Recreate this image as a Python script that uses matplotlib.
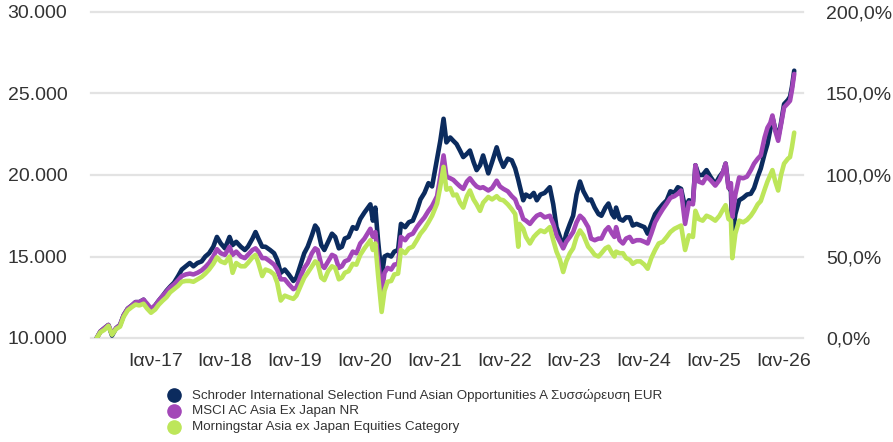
import matplotlib
matplotlib.use("Agg")
import matplotlib.pyplot as plt
from matplotlib.lines import Line2D
import numpy as np
import pandas as pd

# growth of 10.000 EUR, values in thousand EUR
dates = [
    "2016-03-01", "2016-03-20", "2016-04-10", "2016-05-01", "2016-05-20", "2016-06-10",
    "2016-07-01", "2016-07-20", "2016-08-10", "2016-09-01", "2016-09-20", "2016-10-10",
    "2016-11-01", "2016-11-20", "2016-12-10",
    "2017-01-01", "2017-01-20", "2017-02-10", "2017-03-01", "2017-03-20", "2017-04-10",
    "2017-05-01", "2017-05-20", "2017-06-10", "2017-07-01", "2017-07-20", "2017-08-10",
    "2017-09-01", "2017-09-20", "2017-10-10", "2017-11-01", "2017-11-20", "2017-12-10",
    "2018-01-01", "2018-01-25", "2018-02-10", "2018-03-01", "2018-03-25", "2018-04-15",
    "2018-05-01", "2018-05-25", "2018-06-10", "2018-06-25", "2018-07-15", "2018-08-01",
    "2018-08-25", "2018-09-15", "2018-10-01", "2018-10-20", "2018-11-10", "2018-12-01",
    "2018-12-25",
    "2019-01-10", "2019-02-01", "2019-02-20", "2019-03-10", "2019-04-01", "2019-04-18",
    "2019-05-01", "2019-05-20", "2019-06-05", "2019-06-25", "2019-07-15", "2019-08-01",
    "2019-08-20", "2019-09-05", "2019-09-20", "2019-10-10", "2019-11-01", "2019-11-20",
    "2019-12-10",
    "2020-01-01", "2020-02-01", "2020-02-14", "2020-02-27", "2020-03-12", "2020-03-31",
    "2020-04-15", "2020-05-01", "2020-05-20", "2020-06-05", "2020-06-25", "2020-07-10",
    "2020-08-01", "2020-08-20", "2020-09-10", "2020-10-01", "2020-10-20", "2020-11-10",
    "2020-12-01", "2020-12-20",
    "2021-01-15", "2021-02-01", "2021-02-18", "2021-03-05", "2021-03-25", "2021-04-10",
    "2021-04-27", "2021-05-15", "2021-06-01", "2021-06-20", "2021-07-06", "2021-07-25",
    "2021-08-10", "2021-08-28", "2021-09-13", "2021-10-10", "2021-10-30", "2021-11-23",
    "2021-12-10", "2021-12-28",
    "2022-01-20", "2022-02-10", "2022-02-28", "2022-03-16", "2022-03-22", "2022-04-11",
    "2022-04-25", "2022-05-16", "2022-06-05", "2022-06-21", "2022-07-10", "2022-08-01",
    "2022-08-28", "2022-09-15", "2022-10-02", "2022-10-20", "2022-11-06", "2022-11-22",
    "2022-12-11", "2022-12-28",
    "2023-01-15", "2023-02-02", "2023-02-20", "2023-03-17", "2023-04-01", "2023-04-20",
    "2023-05-10", "2023-05-25", "2023-06-15", "2023-07-01", "2023-07-20", "2023-08-01",
    "2023-08-10", "2023-08-28", "2023-09-15", "2023-10-01", "2023-10-20", "2023-11-05",
    "2023-11-25", "2023-12-15",
    "2024-01-05", "2024-01-22", "2024-02-10", "2024-03-01", "2024-03-20", "2024-04-10",
    "2024-05-01", "2024-05-20", "2024-06-10", "2024-06-28", "2024-07-15", "2024-08-05",
    "2024-08-25", "2024-09-15", "2024-09-28", "2024-10-15", "2024-11-05", "2024-11-25",
    "2024-12-15",
    "2025-01-10", "2025-02-01", "2025-02-20", "2025-03-05", "2025-03-20", "2025-04-02",
    "2025-04-09", "2025-04-25", "2025-05-15", "2025-06-05", "2025-06-25", "2025-07-15",
    "2025-08-01", "2025-08-20", "2025-09-05", "2025-09-25", "2025-10-10", "2025-10-25",
    "2025-11-05", "2025-11-20", "2025-12-05", "2025-12-20",
    "2026-01-05", "2026-01-25", "2026-02-05", "2026-02-15", "2026-02-27",
]

fund = [
    10.0, 10.4, 10.6, 10.8, 10.15, 10.6,
    10.8, 11.4, 11.8, 12.0, 12.2, 12.2,
    12.35, 12.0, 11.7,
    12.0, 12.3, 12.6, 12.9, 13.15, 13.4,
    13.8, 14.2, 14.4, 14.6, 14.4, 14.6,
    14.7, 15.0, 15.2, 15.6, 16.2, 15.8,
    15.5, 16.2, 15.7, 15.9, 15.6, 15.4,
    15.6, 16.1, 16.5, 16.1, 15.6, 15.6,
    15.4, 15.2, 14.8, 14.0, 14.2, 13.9,
    13.5,
    13.7, 14.5, 15.2, 15.6, 16.3, 16.9,
    16.7, 15.7, 15.4, 15.9, 16.4, 16.2,
    15.5, 15.6, 16.1, 16.2, 16.8, 16.7,
    17.3,
    17.7, 18.2, 17.2, 18.0, 16.0, 13.75,
    15.0, 15.1, 15.0, 15.3, 15.4, 17.0,
    16.8, 17.1, 17.2, 17.8, 18.5, 18.9,
    19.5, 19.3,
    21.0, 22.1, 23.45, 22.0, 22.3, 22.1,
    21.9, 21.5, 21.1, 21.3, 21.5, 20.8,
    20.3, 20.6, 21.2, 20.1, 20.8, 21.7,
    21.0, 20.5,
    21.0, 20.9, 20.4, 19.7, 19.4, 18.45,
    18.8, 18.65, 18.9, 18.45, 18.8, 18.9,
    19.25, 18.2, 16.8, 16.2, 15.6, 16.4,
    17.0, 17.5,
    18.8, 19.6, 19.0, 18.45, 18.5, 18.0,
    17.6, 17.5, 18.0, 18.25, 17.6, 17.4,
    18.0, 17.3, 17.2, 17.4, 17.4, 16.9,
    17.0, 16.9,
    16.8, 16.4, 17.0, 17.6, 17.9, 18.2,
    18.45, 19.0, 18.9, 19.25, 19.15, 18.0,
    18.45, 18.35, 20.6, 20.0, 20.0, 20.3,
    19.9,
    19.45, 19.9, 20.2, 20.7, 19.3, 19.0,
    16.2, 17.6, 18.45, 18.6, 18.8, 18.85,
    19.2, 19.9, 20.4, 21.3, 21.9, 22.8,
    23.55, 22.8, 22.3, 23.2,
    24.35, 24.6, 24.8, 25.4, 26.4,
]

benchmark = [
    10.0, 10.4, 10.6, 10.8, 10.25, 10.6,
    10.8, 11.4, 11.8, 12.0, 12.2, 12.2,
    12.35, 12.1, 11.8,
    12.0, 12.3, 12.6, 12.85, 13.1, 13.3,
    13.55, 13.8, 13.9, 13.95, 13.9, 14.0,
    14.15, 14.35, 14.6, 15.0, 15.45, 15.2,
    15.1, 15.6, 15.1, 15.3, 15.0, 14.9,
    15.1, 15.4, 15.5, 15.3, 14.9, 14.9,
    14.7, 14.5, 14.2, 13.6, 13.6, 13.3,
    13.0,
    13.1, 13.8, 14.3, 14.6, 15.2, 15.5,
    15.4, 14.5, 14.3, 14.7, 15.1, 15.0,
    14.3, 14.4, 14.7, 14.8, 15.3, 15.2,
    15.8,
    16.1, 16.7, 16.2, 16.5, 14.8, 12.75,
    14.0, 14.3, 14.2, 14.5, 14.55, 16.2,
    16.0, 16.3, 16.4, 16.8, 17.1, 17.4,
    17.8, 18.1,
    18.7, 19.9, 21.2, 19.9, 19.8, 19.7,
    19.5, 19.3, 19.15, 19.6, 19.8, 19.5,
    19.3, 19.2, 19.25, 19.05, 19.2, 19.65,
    19.3, 19.15,
    19.0, 18.7, 18.5, 18.0, 18.0, 17.3,
    17.2, 17.0, 17.3, 17.5, 17.6, 17.4,
    17.5, 17.0, 16.3, 15.9, 15.5, 15.9,
    16.2, 16.5,
    17.1, 17.5, 17.3, 16.8, 16.1, 16.0,
    16.1, 16.1, 16.6, 16.8, 16.4, 16.2,
    16.8, 16.0, 15.8, 16.1, 16.2, 15.9,
    16.0, 16.0,
    15.9, 15.8, 16.4, 17.1, 17.5, 17.9,
    18.25, 18.6, 18.7, 18.85, 19.05, 17.0,
    18.3, 18.2, 20.6, 19.6, 19.5, 19.9,
    19.7,
    19.35, 19.7, 20.2, 20.7, 19.2, 19.5,
    17.4, 18.8, 19.85, 19.8, 19.9, 20.3,
    20.7, 21.0, 21.2, 22.3, 22.9, 23.2,
    23.65, 22.7, 22.1, 23.1,
    24.15, 24.4, 24.55, 25.2, 26.2,
]

category = [
    10.0, 10.35, 10.5, 10.75, 10.2, 10.55,
    10.7, 11.3, 11.7, 11.9, 12.05, 12.0,
    12.1, 11.8, 11.55,
    11.75, 12.05, 12.3, 12.5, 12.8, 13.0,
    13.2, 13.45, 13.5, 13.5, 13.45, 13.6,
    13.75, 13.95, 14.2, 14.55, 14.95, 14.7,
    14.6, 15.0, 14.0, 14.6, 14.4, 14.4,
    14.6, 14.95, 15.1, 14.6, 13.8, 14.2,
    14.1, 13.9, 13.4, 12.3, 12.6, 12.5,
    12.4,
    12.6, 13.2, 13.7, 14.0, 14.4, 14.7,
    14.6, 13.7, 13.55, 14.1, 14.4, 14.3,
    13.6, 13.7, 14.0, 14.1, 14.55, 14.5,
    15.1,
    15.5, 16.0, 15.4, 15.8, 13.9, 11.6,
    12.9, 13.45, 13.5, 13.9, 13.95, 15.4,
    15.2, 15.5, 15.6, 16.0, 16.4, 16.7,
    17.1, 17.5,
    18.25, 19.3, 20.5, 19.1, 19.2, 18.75,
    18.8, 18.3, 18.0, 18.7, 19.05, 18.5,
    18.2, 17.8, 18.3, 18.65, 18.5, 18.7,
    18.5, 18.45,
    18.2, 17.9, 17.6, 15.6, 17.0, 16.7,
    16.2, 15.8, 16.2, 16.4, 16.6, 16.5,
    16.8, 16.0, 15.3, 14.8, 14.05, 14.7,
    15.2, 15.5,
    16.2, 16.6, 16.3, 15.6, 15.4, 15.1,
    15.0, 15.2, 15.5, 15.6, 15.2, 15.0,
    15.3, 15.2, 15.2, 14.9, 14.8, 14.55,
    14.7, 14.7,
    14.5, 14.25, 14.9, 15.4, 15.8, 15.9,
    16.2, 16.5, 16.7, 16.8, 16.9, 15.4,
    16.3, 16.2, 17.8, 17.3, 17.2, 17.5,
    17.4,
    17.2, 17.5, 17.9, 18.15, 17.3, 17.2,
    14.9, 16.4, 17.2, 17.1, 17.25, 17.5,
    17.8, 18.2, 18.4, 19.1, 19.6, 20.0,
    20.3, 19.6, 19.05, 20.0,
    20.7, 21.0, 21.1, 21.7, 22.6,
]

labels = [
    "Schroder International Selection Fund Asian Opportunities A Συσσώρευση EUR",
    "MSCI AC Asia Ex Japan NR",
    "Morningstar Asia ex Japan Equities Category",
]
colors = ["#0b2b5e", "#a347b8", "#bde65a"]

left_ticks = [10000, 15000, 20000, 25000, 30000]
right_ticks = [0, 50, 100, 150, 200]
year_ticks = list(range(2017, 2027))

TEXT = "#333333"
plt.rcParams['font.family'] = ['Liberation Sans', 'DejaVu Sans']

fig = plt.figure(figsize=(8.93, 4.42), dpi=100)
ax = fig.add_axes([91 / 893, 1 - 338 / 442, 712 / 893, 326 / 442])

x = pd.to_datetime(dates)
for vals, col in zip([fund, benchmark, category], colors):
    ax.plot(x, np.array(vals) * 1000, color=col, lw=3.3,
            solid_joinstyle='round', solid_capstyle='round', zorder=3)

ax.set_xlim(pd.Timestamp('2016-01-31'), pd.Timestamp('2026-04-14'))
ax.set_ylim(left_ticks[0], left_ticks[-1])
for v in left_ticks:
    ax.axhline(v, color='#e3e3e3', lw=1.6, zorder=1, clip_on=False)

ax.set_yticks(left_ticks)
ax.set_yticklabels([f"{v:,}".replace(",", ".") for v in left_ticks])
ax.set_xticks(pd.to_datetime([f"{y}-01-01" for y in year_ticks]))
ax.set_xticklabels([f"Ιαν-{y % 100:02d}" for y in year_ticks])
ax.tick_params(axis='y', length=0, labelsize=14, colors=TEXT, pad=17)
ax.tick_params(axis='x', length=0, labelsize=14, colors=TEXT, pad=11)
for s in ax.spines.values():
    s.set_visible(False)

ax2 = ax.twinx()
ax2.set_ylim(right_ticks[0], right_ticks[-1])
ax2.set_yticks(right_ticks)
ax2.set_yticklabels([f"{v:.1f}%".replace(".", ",") for v in right_ticks])
ax2.tick_params(axis='y', length=0, labelsize=14, colors=TEXT, pad=16.5)
for s in ax2.spines.values():
    s.set_visible(False)

# legend
for i, (lab, col) in enumerate(zip(labels, colors)):
    ypos = 1 - (395 + 16.2 * i) / 442
    fig.add_artist(Line2D([174 / 893], [ypos], transform=fig.transFigure,
                          marker='o', markersize=9.5, color=col, linestyle='none'))
    fig.text(191.5 / 893, ypos, lab, fontsize=9.6, color=TEXT, va='center', ha='left')

fig.savefig("out.png", dpi=100)
